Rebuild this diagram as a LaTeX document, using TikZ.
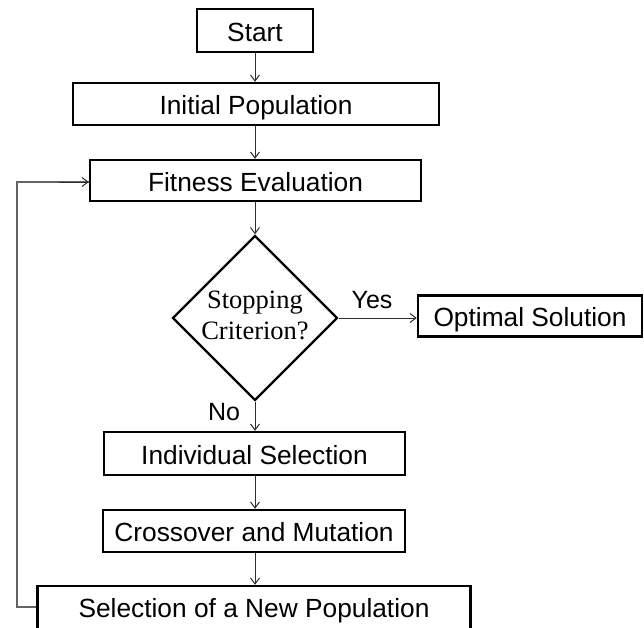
\documentclass[tikz,border=0pt]{standalone}
\usepackage{fontspec}
\setmainfont{Liberation Sans}
\newfontfamily\serifdq{Liberation Serif}
\usetikzlibrary{shapes.geometric,arrows.meta}
\definecolor{arrowc}{RGB}{45,45,45}
\definecolor{loopc}{RGB}{100,100,100}
\tikzset{
  procbox/.style={draw=black, line width=2.4pt, rectangle, inner sep=0pt,
    font=\fontsize{26.3}{30}\selectfont, text height=21.8pt, text depth=0pt, anchor=center},
  decbox/.style={draw=black, line width=2.4pt, diamond, aspect=1, inner sep=0pt,
    minimum width=165pt, minimum height=165pt},
  dtext/.style={font=\serifdq\fontsize{26.5}{31}\selectfont, align=center, inner sep=0pt},
  lbl/.style={font=\fontsize{25}{28}\selectfont, inner sep=0pt, text height=17.9pt, text depth=0pt},
  flow/.style={draw=arrowc, line width=1pt, -{Straight Barb[length=6pt,width=9pt]}},
  loopline/.style={draw=loopc, line width=1.4pt},
}
\begin{document}
\begin{tikzpicture}[x=1pt,y=-1pt]
\useasboundingbox (0,0) rectangle (644,627);
\node[procbox, minimum width=116pt, minimum height=43pt] (start) at (255,30.5) {Start};
\node[procbox, minimum width=366pt, minimum height=42pt] (init) at (256,104) {Initial Population};
\node[procbox, minimum width=331pt, minimum height=41pt] (fit) at (255.5,180.5) {Fitness Evaluation};
\node[decbox] (dec) at (255,318) {};
\node[dtext] (dq) at (255,315) {Stopping\\Criterion?};
\node[procbox, minimum width=224pt, minimum height=41pt] (opt) at (530,316) {Optimal Solution};
\node[procbox, minimum width=301pt, minimum height=43pt] (ind) at (254.5,453.5) {Individual Selection};
\node[procbox, minimum width=302pt, minimum height=42pt] (cross) at (254,531) {Crossover and Mutation};
\node[procbox, minimum width=433pt, minimum height=52pt] (sel) at (254,612) {};
\node[procbox, draw=none] (seltext) at (254,607) {Selection of a New Population};
\node[lbl] (yes) at (372,300) {Yes};
\node[lbl] (no) at (224,412) {No};
\coordinate (lc) at (17,607);

\draw[flow] (start.south) -- (start.south |- init.north);
\draw[flow] (init.south -| start.south) -- (start.south |- fit.north);
\draw[flow] (fit.south -| dec.north) -- (dec.north);
\draw[flow] (dec.east) -- (dec.east -| opt.west);
\draw[flow] (dec.south) -- (dec.south |- ind.north);
\draw[flow] (ind.south -| dec.south) -- (dec.south |- cross.north);
\draw[flow] (cross.south -| dec.south) -- (dec.south |- sel.north);
\draw[loopline] (sel.west |- lc) -- (lc) |- ([yshift=-1.5pt]fit.west);
\draw[flow] ([yshift=-1.5pt,xshift=-30pt]fit.west) -- ([yshift=-1.5pt]fit.west);
\end{tikzpicture}
\end{document}
